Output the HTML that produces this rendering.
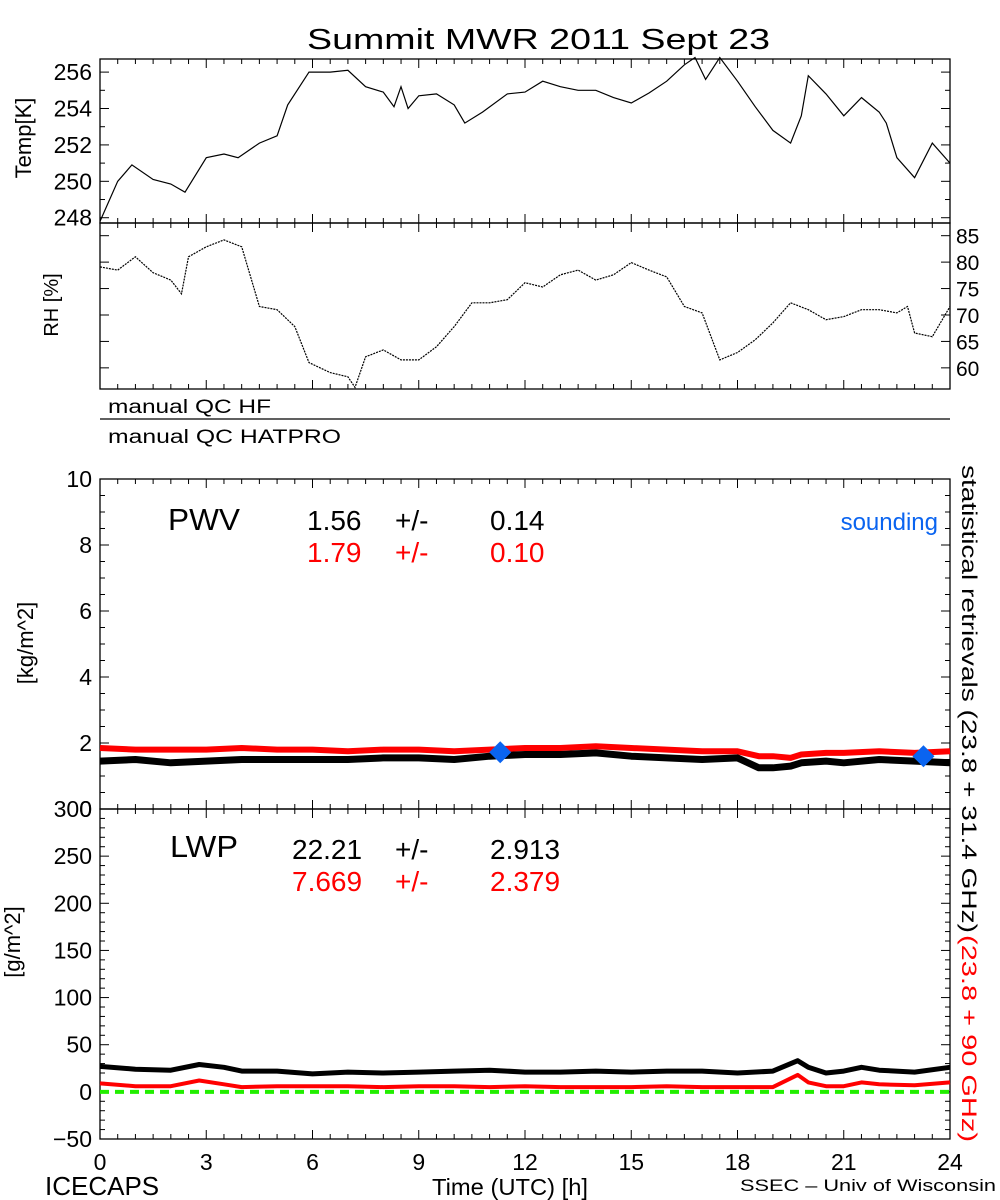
<!DOCTYPE html>
<html><head><meta charset="utf-8"><style>
html,body{margin:0;padding:0;background:#fff;}
svg{display:block;font-family:"Liberation Sans",sans-serif;}
</style></head><body>
<svg id="chart" width="1000" height="1200" viewBox="0 0 1000 1200">
<text x="307" y="49" font-size="29" textLength="463" lengthAdjust="spacingAndGlyphs">Summit MWR 2011 Sept 23</text>
<g id="g"></g>
</svg>
<script>
// ---- data ----
const tempHours = [0,0.5,0.9,1.5,2.0,2.4,3.0,3.5,3.9,4.5,5.0,5.3,5.9,6.5,7.0,7.5,8.0,8.3,8.5,8.7,9.0,9.5,10.0,10.3,10.8,11.5,12.0,12.5,13.0,13.5,14.0,14.5,15.0,15.5,16.0,16.5,16.8,17.1,17.5,18.0,18.5,19.0,19.5,19.8,20.0,20.5,21.0,21.5,22.0,22.2,22.5,23.0,23.5,24.0];
const tempValues = [247.8,250.0,250.9,250.1,249.85,249.4,251.3,251.5,251.3,252.1,252.5,254.2,256.0,256.0,256.1,255.2,254.9,254.1,255.2,254.0,254.7,254.8,254.2,253.2,253.8,254.8,254.9,255.5,255.2,255.0,255.0,254.6,254.3,254.85,255.5,256.4,256.8,255.6,256.8,255.5,254.1,252.8,252.1,253.6,255.8,254.8,253.6,254.6,253.8,253.2,251.3,250.2,252.1,251.0];
const rhHours = [0,0.5,1.0,1.5,2.0,2.3,2.5,3.0,3.5,4.0,4.5,5.0,5.5,5.9,6.5,7.0,7.2,7.5,8.0,8.5,9.0,9.5,10.0,10.5,11.0,11.5,12.0,12.5,13.0,13.5,14.0,14.5,15.0,15.5,16.0,16.5,17.0,17.5,18.0,18.5,19.0,19.5,20.0,20.5,21.0,21.5,22.0,22.5,22.8,23.0,23.5,24.0];
const rhValues = [79.1,78.5,81.0,78.0,76.6,74.0,81.0,82.9,84.2,82.9,71.6,71.0,67.8,61.0,59.1,58.3,56.3,62.1,63.4,61.5,61.5,64.0,67.8,72.3,72.3,72.9,76.1,75.3,77.6,78.5,76.6,77.6,79.9,78.5,77.2,71.6,70.4,61.5,62.9,65.3,68.5,72.3,71.0,69.1,69.7,71.0,71.0,70.4,71.6,66.6,65.9,71.6];
const pwvHours = [0,1,2,3,4,5,6,7,8,9,10,11,12,13,14,15,16,17,18,18.6,19,19.5,19.8,20.5,21,22,23,24];
const pwvBlack = [1.45,1.5,1.4,1.45,1.5,1.5,1.5,1.5,1.55,1.55,1.5,1.6,1.65,1.65,1.7,1.6,1.55,1.5,1.55,1.25,1.25,1.3,1.4,1.45,1.4,1.5,1.45,1.4];
const pwvRed = [1.85,1.8,1.8,1.8,1.85,1.8,1.8,1.75,1.8,1.8,1.75,1.8,1.85,1.85,1.9,1.85,1.8,1.75,1.75,1.6,1.6,1.55,1.65,1.7,1.7,1.75,1.7,1.75];
const soundHours = [11.3,23.25];
const soundValues = [1.72,1.6];
const lwpHours = [0,1,2,2.8,3.5,4,5,6,7,8,9,10,11,12,13,14,15,16,17,18,19,19.7,20,20.5,21,21.5,22,23,24];
const lwpBlack = [27,24,23,29,26,22,22,19,21,20,21,22,23,21,21,22,21,22,22,20,22,33,26,20,22,26,23,21,26];
const lwpRed = [9,6,6,12,8,5,6,6,6,5,6,6,5,6,5,5,5,6,5,5,5,18,10,6,6,10,8,7,10];
const tempTicks = [248,250,252,254,256];
const rhTicks = [60,65,70,75,80,85];
const pwvTicks = [0,2,4,6,8,10];
const lwpTicks = [-50,0,50,100,150,200,250,300];
const hourTicks = [0,3,6,9,12,15,18,21,24];

// ---- scales ----
const X0=100,X1=950;
const sx=h=>X0+(h/24)*(X1-X0);
const lin=(d0,d1,r0,r1)=>v=>r0+(v-d0)/(d1-d0)*(r1-r0);
const yT=lin(247.71,256.72,223,59);
const yR=lin(56.0,87.4,389,223);
const yP=lin(0,10,809,479);
const yL=lin(-50,300,1139,809);
const NS="http://www.w3.org/2000/svg";
const G=document.getElementById('g');
function mk(tag,attrs,parent){const e=document.createElementNS(NS,tag);for(const k in attrs)e.setAttribute(k,attrs[k]);(parent||G).appendChild(e);return e;}
function txt(x,y,s,size,extra){const t=mk('text',Object.assign({x:x,y:y,'font-size':size},extra||{}));t.textContent=s;return t;}
function pathFrom(hs,vs,ys){return hs.map((h,i)=>(i?'L':'M')+sx(h).toFixed(1)+' '+ys(vs[i]).toFixed(1)).join(' ');}

function frame(top,bot,name){
  const r=mk('rect',{x:X0,y:top,width:X1-X0,height:bot-top,fill:'none',stroke:'#000','stroke-width':1.3});
  
  
  for(let h=0;h<=24;h+=0.5){
    const maj=(h%3===0), L=maj?9:5, x=sx(h);
    mk('line',{x1:x,y1:top,x2:x,y2:top+L,stroke:'#000','stroke-width':1});
    mk('line',{x1:x,y1:bot,x2:x,y2:bot-L,stroke:'#000','stroke-width':1});
  }
}
function yticks(ys,d0,d1,step,majStep){
  for(let v=d0;v<=d1+1e-9;v+=step){
    const y=ys(v),maj=Math.abs(v/majStep-Math.round(v/majStep))<1e-6,L=maj?9:5;
    mk('line',{x1:X0,y1:y,x2:X0+L,y2:y,stroke:'#000','stroke-width':1});
    mk('line',{x1:X1,y1:y,x2:X1-L,y2:y,stroke:'#000','stroke-width':1});
  }
}
frame(59,223,'temp-panel'); yticks(yT,248,256,1,2);
frame(223,389,'rh-panel'); yticks(yR,60,85,5,5);
frame(479,809,'pwv-panel'); yticks(yP,0,10,0.5,2);
frame(809,1139,'lwp-panel'); yticks(yL,-50,300,10,50);

tempTicks.forEach(v=>{const t=txt(92,yT(v)+8,String(v),23,{'text-anchor':'end'});
 
 });
rhTicks.forEach(v=>{const t=txt(956,yR(v)+8,String(v),21,{});
 
 });
pwvTicks.forEach(v=>{const t=txt(92,yP(v)+8,String(v),23,{'text-anchor':'end'});
 
 });
lwpTicks.forEach(v=>{const t=txt(92,yL(v)+8,(v<0?'\u2212':'')+Math.abs(v),23,{'text-anchor':'end'});
 
 });
hourTicks.forEach(v=>{const t=txt(sx(v),1170,String(v),23,{'text-anchor':'middle'});
 
 });

let p;
p=mk('path',{d:pathFrom(tempHours,tempValues,yT),fill:'none',stroke:'#000','stroke-width':1.2});


p=mk('path',{d:pathFrom(rhHours,rhValues,yR),fill:'none',stroke:'#000','stroke-width':1.2,'stroke-dasharray':'2 1'});


p=mk('path',{d:pathFrom(pwvHours,pwvRed,yP),fill:'none',stroke:'#f00','stroke-width':6,'stroke-linejoin':'round'});


p=mk('path',{d:pathFrom(pwvHours,pwvBlack,yP),fill:'none',stroke:'#000','stroke-width':7,'stroke-linejoin':'round'});


soundHours.forEach((h,i)=>{const cx=sx(h),cy=yP(soundValues[i]),r=11;
 const d=mk('polygon',{points:`${cx},${cy-r} ${cx+r},${cy} ${cx},${cy+r} ${cx-r},${cy}`,fill:'#0a64f0'});
 
 });
p=mk('line',{x1:X0,x2:X1,y1:yL(0),y2:yL(0),stroke:'#22ee00','stroke-width':4,'stroke-dasharray':'9 6'});


p=mk('path',{d:pathFrom(lwpHours,lwpBlack,yL),fill:'none',stroke:'#000','stroke-width':5,'stroke-linejoin':'round'});


p=mk('path',{d:pathFrom(lwpHours,lwpRed,yL),fill:'none',stroke:'#f00','stroke-width':4,'stroke-linejoin':'round'});


</script>
<svg width="1000" height="1200" viewBox="0 0 1000 1200" style="position:absolute;left:0;top:0;font-family:'Liberation Sans',sans-serif">
<text transform="translate(31,138) rotate(-90)" font-size="22" text-anchor="middle">Temp[K]</text>
<text transform="translate(58,305) rotate(-90)" font-size="20" text-anchor="middle">RH [%]</text>
<text x="108" y="413" font-size="19" textLength="163" lengthAdjust="spacingAndGlyphs">manual QC HF</text>
<line x1="100" y1="419" x2="950" y2="419" stroke="#000" stroke-width="1.3"/>
<text x="108" y="443" font-size="19" textLength="233" lengthAdjust="spacingAndGlyphs">manual QC HATPRO</text>
<text transform="translate(33,643) rotate(-90)" font-size="22" text-anchor="middle">[kg/m^2]</text>
<text transform="translate(20,942) rotate(-90)" font-size="22" text-anchor="middle">[g/m^2]</text>
<text x="168" y="530" font-size="31" textLength="72" lengthAdjust="spacingAndGlyphs">PWV</text>
<g font-size="28">
<text x="307" y="530">1.56</text><text x="395" y="530">+/-</text><text x="490" y="530">0.14</text></g>
<g font-size="28" fill="#f00">
<text x="307" y="562">1.79</text><text x="395" y="562">+/-</text><text x="490" y="562">0.10</text></g>
<text x="938" y="530" font-size="24" fill="#0a64f0" text-anchor="end">sounding</text>
<text x="170" y="857" font-size="31" textLength="68" lengthAdjust="spacingAndGlyphs">LWP</text>
<g font-size="28">
<text x="292" y="859">22.21</text><text x="395" y="859">+/-</text><text x="490" y="859">2.913</text></g>
<g font-size="28" fill="#f00">
<text x="292" y="891">7.669</text><text x="395" y="891">+/-</text><text x="490" y="891">2.379</text></g>
<text transform="translate(962,465) rotate(90)" font-size="21" textLength="468" lengthAdjust="spacingAndGlyphs">statistical retrievals (23.8 + 31.4 GHz)</text>
<text transform="translate(962,935) rotate(90)" font-size="21" fill="#f00" textLength="207" lengthAdjust="spacingAndGlyphs">(23.8 + 90 GHz)</text>
<text x="45" y="1195" font-size="26">ICECAPS</text>
<text x="432" y="1195" font-size="23" textLength="156" lengthAdjust="spacingAndGlyphs">Time (UTC) [h]</text>
<text x="740" y="1191" font-size="17" textLength="256" lengthAdjust="spacingAndGlyphs">SSEC – Univ of Wisconsin</text>
</svg>
</body></html>
